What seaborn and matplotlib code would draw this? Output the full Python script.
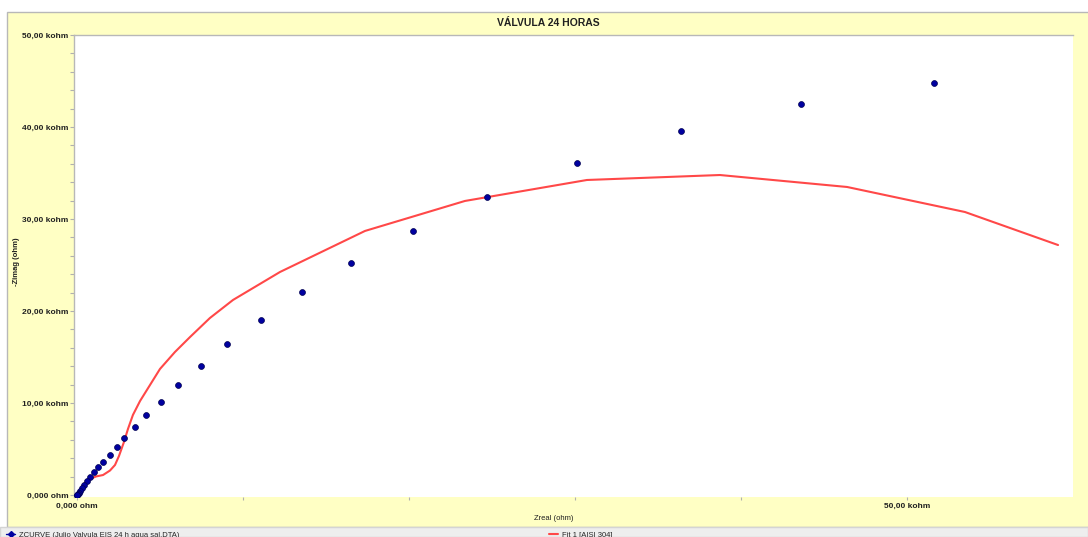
import matplotlib
matplotlib.use("Agg")
import matplotlib.pyplot as plt
from matplotlib.patches import Rectangle
from matplotlib.lines import Line2D
from matplotlib.ticker import MultipleLocator
import seaborn as sns
import pandas as pd

# Measured impedance (kohm)
zreal = [51.63, 43.61, 36.39, 30.12, 24.70, 20.24, 16.51, 13.55, 11.08, 9.04,
         7.47, 6.08, 5.06, 4.16, 3.49, 2.83, 2.41, 1.99, 1.57, 1.27,
         1.02, 0.78, 0.60, 0.42, 0.30, 0.18, 0.12, 0.06, 0.03, 0.01]
zimag = [44.78, 42.50, 39.57, 36.09, 32.39, 28.70, 25.22, 22.07, 19.02, 16.41,
         14.02, 11.96, 10.11, 8.70, 7.39, 6.20, 5.22, 4.35, 3.59, 3.04,
         2.50, 1.96, 1.52, 1.09, 0.76, 0.43, 0.22, 0.11, 0.03, 0.00]

# Fitted model curve (kohm)
fit_real = [0.00, 0.18, 0.42, 0.78, 1.14, 1.57, 1.99, 2.29, 2.53, 2.83, 3.07,
            3.37, 3.80, 4.40, 5.00, 5.90, 6.81, 8.01, 9.40, 12.23, 17.35,
            23.37, 30.72, 38.73, 46.39, 53.49, 59.10]
fit_imag = [0.00, 0.54, 1.20, 1.74, 2.01, 2.17, 2.66, 3.26, 4.24, 5.76, 7.17,
            8.70, 10.22, 11.96, 13.70, 15.54, 17.17, 19.24, 21.20, 24.24, 28.70,
            31.96, 34.24, 34.78, 33.48, 30.76, 27.17]

title = "VÁLVULA 24 HORAS"
y_ticks = [0, 10, 20, 30, 40, 50]
y_labels = ["0,000 ohm", "10,00 kohm", "20,00 kohm", "30,00 kohm", "40,00 kohm", "50,00 kohm"]
x_ticks = [0, 10, 20, 30, 40, 50]
x_labels = ["0,000 ohm", "", "", "", "", "50,00 kohm"]
data_label = "ZCURVE (Julio Valvula EIS 24 h agua sal.DTA)"
fit_label = "Fit 1 [AISI 304]"

sns.set_style("white")
plt.rcParams["font.family"] = ["Liberation Sans", "DejaVu Sans"]

W, H = 1088, 537
fig = plt.figure(figsize=(W / 100, H / 100), dpi=100)
fig.patch.set_facecolor("white")


def fx(px):
    return px / W


def fy(py):
    return 1 - py / H


# Panel background and legend strip
fig.patches.append(Rectangle((fx(7), fy(527)), 1.0, fy(12) - fy(527),
                             transform=fig.transFigure, facecolor="#FFFFC4",
                             edgecolor="#B8B8B8", linewidth=1.0, zorder=-10))
fig.patches.append(Rectangle((0, 0), 1.0, fy(527),
                             transform=fig.transFigure, facecolor="#EEEEEE",
                             edgecolor="#D4D4D4", linewidth=1.0, zorder=-10))

ax = fig.add_axes([fx(74), fy(497), fx(1073) - fx(74), fy(35) - fy(497)])
ax.set_zorder(1)
ax.set_facecolor("white")

df_pts = pd.DataFrame({"Zreal": zreal, "Zimag": zimag})
df_fit = pd.DataFrame({"Zreal": fit_real, "Zimag": fit_imag})

sns.lineplot(data=df_fit, x="Zreal", y="Zimag", sort=False, color="#FF4848",
             linewidth=1.5, ax=ax, zorder=2)
sns.scatterplot(data=df_pts, x="Zreal", y="Zimag", color="#0000A0",
                edgecolor="#000050", linewidth=0.5, s=18, ax=ax, zorder=3)

ax.set_xlim(-0.18, 60.0)
ax.set_ylim(-0.22, 50.0)

for side in ["bottom", "right"]:
    ax.spines[side].set_visible(False)
for side in ["left", "top"]:
    ax.spines[side].set_color("#B8B8B8")
    ax.spines[side].set_linewidth(1.0)

ax.set_yticks(y_ticks)
ax.set_yticklabels(y_labels, fontsize=6, fontweight="bold", color="#202020")
ax.yaxis.set_minor_locator(MultipleLocator(2))
ax.set_xticks(x_ticks)
ax.set_xticklabels(x_labels, fontsize=6, fontweight="bold", color="#202020")
ax.tick_params(axis="y", which="both", direction="out", length=3, width=0.8,
               color="#B0B0B0", pad=1, left=True)
ax.tick_params(axis="x", which="major", direction="out", length=2, width=0.8,
               color="#B0B0B0", pad=2, bottom=True)

ax.set_xlabel("Zreal (ohm)", fontsize=5.5, color="#202020")
ax.xaxis.set_label_coords((554 - 74) / 999, (497 - 519) / 462)
ax.xaxis.label.set_va("center")
ax.set_ylabel("-Zimag (ohm)", fontsize=5.5, fontweight="bold", color="#202020")
ax.yaxis.set_label_coords((17 - 74) / 999, (497 - 262) / 462)
ax.yaxis.label.set_va("center")

fig.text(fx(548), fy(23), title, ha="center", va="center", fontsize=7.5,
         fontweight="bold", color="#202020")

h_data = Line2D([], [], color="#0000A0", marker="D", markersize=3, linewidth=1)
h_fit = Line2D([], [], color="#FF4848", linewidth=1.5)
fig.legend([h_data], [data_label], loc="center left", frameon=False,
           bbox_to_anchor=(fx(6), fy(535)), fontsize=5.5, handlelength=1.2,
           handletextpad=0.5, borderaxespad=0, borderpad=0)
fig.legend([h_fit], [fit_label], loc="center left", frameon=False,
           bbox_to_anchor=(fx(549), fy(535)), fontsize=5.5, handlelength=1.2,
           handletextpad=0.5, borderaxespad=0, borderpad=0)

fig.savefig("out.png", dpi=100, facecolor="white")
